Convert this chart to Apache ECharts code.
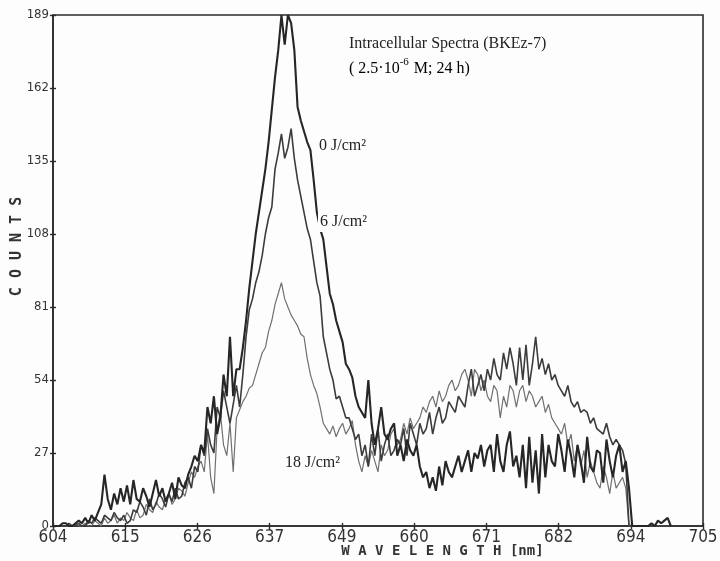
<!DOCTYPE html>
<html>
<head>
<meta charset="utf-8">
<script src="https://cdn.jsdelivr.net/npm/echarts@6/dist/echarts.min.js"></script>
<style>
  html, body { margin: 0; padding: 0; background: #fdfdfd; }
  #chart { width: 720px; height: 561px; }
</style>
</head>
<body>
<div id="chart"></div>
<script>
// Spectra sampled every 0.5 nm starting at 604 nm
const WL_START = 604;
const WL_STEP = 0.5;
const WL_MIN = 604;
const WL_MAX = 705;

// x tick labels (nine equal divisions between 604 and 705 nm)
const xTickLabels = ['604', '615', '626', '637', '649', '660', '671', '682', '694', '705'];
const yMax = 189;
const yStep = 27;

// 0 J/cm²
const dose0 = [
  0,0, 0,1, 1,0, 0,1, 2,1, 3,1, 4,2, 5,8, 19,10, 6,12,
  8,14, 9,15, 8,17, 10,9, 14,11, 7,12, 17,11, 14,9, 12,16, 10,18,
  15,14, 19,22, 26,24, 30,27, 44,38, 48,34, 40,56, 48,70, 48,58, 58,66,
  76,88, 98,108, 116,124, 132,142, 154,166, 176,189, 178,189, 186,176, 155,150, 146,142,
  139,128, 116,110, 106,96, 86,82, 76,72, 68,60, 58,55, 48,44, 42,40, 54,38,
  30,36, 44,34, 32,36, 38,26, 30,24, 32,28, 26,30, 22,18, 20,14, 18,13,
  22,15, 24,20, 18,22, 26,20, 24,28, 20,27, 25,30, 22,28, 30,20, 34,24,
  20,30, 35,22, 26,18, 30,14, 33,16, 28,12, 34,18, 30,24, 22,34, 28,20,
  32,26, 18,30, 24,16, 33,22, 20,28, 27,16, 32,24, 18,26, 30,20, 24,14,
  0,0, 0,0, 0,0, 1,0, 2,1, 2,3, 0
];

// 6 J/cm²
const dose6 = [
  0,0, 0,0, 0,1, 0,0, 1,0, 0,2, 1,3, 2,1, 4,3, 2,5,
  3,2, 4,1, 2,6, 5,9, 7,4, 10,6, 8,12, 10,7, 12,9, 14,10,
  11,16, 18,14, 22,20, 30,26, 36,30, 27,44, 40,50, 44,38, 45,52, 44,56,
  70,80, 84,90, 94,100, 108,114, 118,132, 138,145, 136,140, 147,136, 128,122, 116,110,
  106,98, 90,85, 70,64, 58,54, 47,48, 44,40, 40,36, 32,34, 26,30, 22,34,
  26,36, 24,30, 34,26, 28,32, 30,36, 26,38, 34,30, 38,34, 36,42, 34,40,
  44,38, 40,46, 44,42, 48,46, 44,52, 58,48, 52,56, 50,58, 54,62, 56,54,
  64,58, 66,60, 52,66, 54,67, 52,60, 70,58, 62,56, 60,54, 56,52, 50,48,
  52,46, 44,46, 42,43, 42,38, 40,36, 35,34, 38,33, 30,32, 30,28, 23,0,
  0,0, 0,0, 0,0, 0,0, 0,0, 0,0, 0
];

// 18 J/cm²
const dose18 = [
  0,0, 0,0, 0,0, 0,1, 0,0, 1,0, 0,2, 1,0, 3,1, 2,4,
  1,3, 2,5, 3,2, 6,3, 4,8, 6,5, 9,7, 6,10, 12,8, 10,14,
  13,11, 16,20, 18,22, 24,20, 34,18, 12,36, 42,30, 26,38, 20,40, 43,46,
  48,51, 52,56, 60,64, 66,72, 76,82, 86,90, 84,81, 78,76, 74,71, 70,62,
  56,52, 49,44, 38,36, 34,37, 33,36, 38,34, 36,39, 30,24, 20,26, 22,28,
  24,20, 30,26, 28,34, 36,30, 32,38, 34,40, 36,38, 40,44, 42,46, 48,44,
  50,46, 48,52, 54,50, 52,56, 58,54, 48,58, 56,50, 54,48, 46,52, 50,40,
  48,44, 52,50, 44,50, 52,46, 50,48, 44,46, 48,42, 45,40, 38,36, 34,38,
  30,34, 24,30, 22,28, 18,24, 20,16, 14,22, 18,12, 20,14, 16,18, 14,0,
  0,0, 0,0, 0,0, 0,0, 0,0, 0,0, 0
];

// The wavelength axis runs in "division" units (0..9) so that every one of the
// nine equal divisions gets a tick; wavelengths are mapped onto it here.
const divisions = xTickLabels.length - 1;
const nmPerDivision = (WL_MAX - WL_MIN) / divisions;
function toSeries(values) {
  return values.map((v, i) => [((WL_START + i * WL_STEP) - WL_MIN) / nmPerDivision, v]);
}

const chart = echarts.init(document.getElementById('chart'), null, { renderer: 'canvas' });

const axisColor = '#2b2b2b';
const bg = '#fdfdfd';
const labelFont = '"Liberation Sans Narrow", "DejaVu Sans Condensed", "Liberation Sans", sans-serif';
const monoFont = '"DejaVu Sans Mono", monospace';
const serif = '"Liberation Serif", "DejaVu Serif", serif';
const annoStyle = { fontFamily: serif, fontSize: 16, fill: '#222' };

// companion axes carry the outer half of each tick so ticks cross the axis line
const tickOnly = (extra) => Object.assign({
  axisLine: { show: false },
  axisLabel: { show: false },
  splitLine: { show: false },
  axisTick: { show: true, inside: false, length: 3, lineStyle: { color: axisColor, width: 1.4 } }
}, extra);

chart.setOption({
  animation: false,
  backgroundColor: bg,
  grid: {
    left: 53, right: 17, top: 15, bottom: 35,
    containLabel: false,
    outerBoundsMode: 'none',
    show: true, borderColor: axisColor, borderWidth: 1.6,
    backgroundColor: 'transparent'
  },
  xAxis: [{
    type: 'value',
    min: 0, max: divisions, interval: 1,
    axisLine: { show: true, lineStyle: { color: axisColor, width: 1.6 } },
    axisTick: { show: true, inside: true, length: 3, lineStyle: { color: axisColor, width: 1.4 } },
    splitLine: { show: false },
    axisLabel: {
      color: '#333', fontFamily: labelFont, fontSize: 17, margin: 3,
      formatter: v => xTickLabels[Math.round(v)]
    },
    name: 'W A V E L E N G T H [nm]',
    nameLocation: 'middle',
    nameGap: 18,
    nameMoveOverlap: false,
    nameTextStyle: {
      color: '#333', fontFamily: monoFont, fontWeight: 'bold', fontSize: 14,
      verticalAlign: 'top', padding: [0, 0, 0, 129]
    }
  }, tickOnly({ type: 'value', position: 'bottom', min: 0, max: divisions, interval: 1 })],
  yAxis: [{
    type: 'value',
    min: 0, max: yMax, interval: yStep,
    axisLine: { show: true, lineStyle: { color: axisColor, width: 1.6 } },
    axisTick: { show: true, inside: true, length: 3, lineStyle: { color: axisColor, width: 1.4 } },
    splitLine: { show: false },
    axisLabel: { color: '#333', fontFamily: labelFont, fontSize: 13, margin: 4 },
    name: 'C O U N T S',
    nameLocation: 'middle',
    nameGap: 28,
    nameMoveOverlap: false,
    nameRotate: 90,
    nameTextStyle: {
      color: '#333', fontFamily: monoFont, fontWeight: 'bold', fontSize: 15,
      padding: [0, 0, 0, 48]
    }
  }, tickOnly({ type: 'value', position: 'left', min: 0, max: yMax, interval: yStep })],
  series: [
    {
      name: '18 J/cm²', type: 'line', data: toSeries(dose18), symbol: 'none',
      lineStyle: { color: '#707070', width: 1.2 }, z: 2
    },
    {
      name: '6 J/cm²', type: 'line', data: toSeries(dose6), symbol: 'none',
      lineStyle: { color: '#3c3c3c', width: 1.6 }, z: 3
    },
    {
      name: '0 J/cm²', type: 'line', data: toSeries(dose0), symbol: 'none',
      lineStyle: { color: '#262626', width: 2.1 }, z: 4
    }
  ],
  graphic: [
    { type: 'text', left: 349, top: 36, z: 100, style: Object.assign({ text: 'Intracellular Spectra (BKEz-7)' }, annoStyle) },
    {
      type: 'text', left: 349, top: 55, z: 100,
      style: {
        text: '{n|( 2.5·10}{s|-6}{n| M; 24 h)}',
        rich: {
          n: { fontFamily: serif, fontSize: 16, color: '#222', lineHeight: 22, verticalAlign: 'bottom' },
          s: { fontFamily: serif, fontSize: 11, color: '#222', lineHeight: 22, verticalAlign: 'top', padding: [2, 1, 0, 0] }
        }
      }
    },
    { type: 'text', left: 319, top: 138, z: 100, style: Object.assign({ text: '0 J/cm²' }, annoStyle) },
    { type: 'text', left: 318, top: 212, z: 100, style: Object.assign({ text: '6 J/cm²', backgroundColor: bg, padding: [2, 2, 2, 2] }, annoStyle) },
    { type: 'text', left: 285, top: 455, z: 100, style: Object.assign({ text: '18 J/cm²' }, annoStyle) }
  ]
});
</script>
</body>
</html>
